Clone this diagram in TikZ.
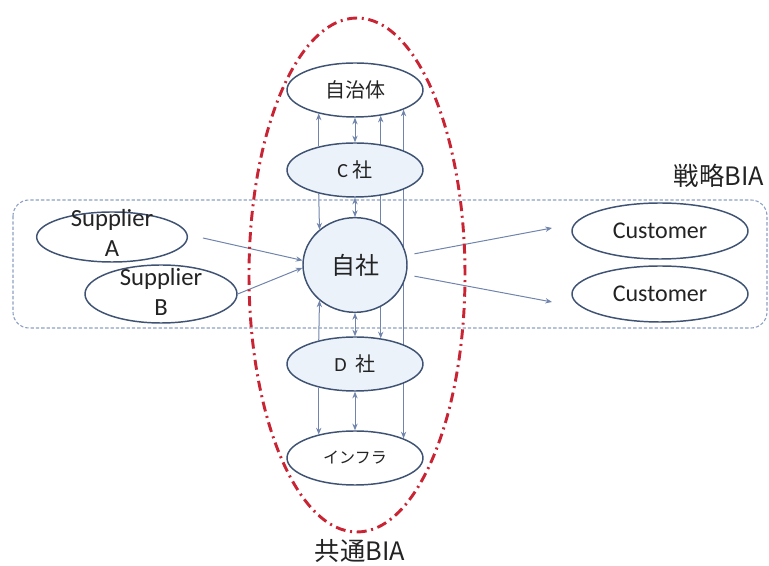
\documentclass[tikz,border=0pt]{standalone}
\usepackage{fontspec}
\setmainfont{Carlito}
\newfontfamily\jp{Noto Sans CJK JP}
\usepackage{tikz}
\usetikzlibrary{arrows.meta}
\usetikzlibrary{backgrounds}
\usetikzlibrary{shapes.geometric}
\definecolor{edgec}{RGB}{62,82,115}
\definecolor{flowc}{RGB}{112,132,172}
\definecolor{boxc}{RGB}{140,160,195}
\definecolor{redc}{RGB}{200,36,52}
\definecolor{paleb}{RGB}{236,242,250}
\definecolor{textc}{RGB}{35,35,35}
\tikzset{
	bub/.style={ellipse, draw=edgec, line width=1.1pt, inner sep=0pt, text=textc},
	midbub/.style={bub, fill=paleb, minimum width=102pt, minimum height=40.5pt},
	endbub/.style={bub, fill=white, minimum width=102pt, minimum height=40.5pt},
	flow/.style={->, draw=flowc, line width=0.75pt},
	both/.style={<->, draw=flowc, line width=0.75pt}
}

\begin{document}
\begin{tikzpicture}[x=0.75pt, y=-0.75pt, >={Stealth[length=5pt,width=4pt]}]
	\useasboundingbox (0,0) rectangle (769,566);
	\draw[boxc, line width=0.8pt, dash pattern=on 2.5pt off 1.5pt, rounded corners=12pt] (13,200) rectangle (767,328);
	\begin{scope}[every node/.style={font=\jp\fontsize{15}{18}\selectfont}]
		\node[endbub] (jichitai) at (355,90) {自治体};
		\node[midbub] (Csha) at (355,170) {{\rmfamily C} 社};
		\node[bub, fill=paleb, minimum width=78pt, minimum height=71pt, font=\jp\fontsize{18}{22}\selectfont] (jisha) at (355,265) {自社};
		\node[midbub] (Dsha) at (355,364) {{\rmfamily D}\ \ 社};
		\node[endbub, font=\jp\fontsize{12}{14}\selectfont] (infra) at (355,458) {インフラ};
	\end{scope}
	\begin{scope}[every node/.style={bub, fill=white}]
		\node[minimum width=113pt, minimum height=37.5pt] (supA) at (112,237) {};
		\node[minimum width=114pt, minimum height=43.5pt] (supB) at (161,294) {};
		\node[minimum width=132pt, minimum height=42pt, font=\fontsize{18}{22}\selectfont] (cust1) at (660,231) {Customer};
		\node[minimum width=132pt, minimum height=42pt, font=\fontsize{18}{22}\selectfont] (cust2) at (660,294) {Customer};
	\end{scope}
	\begin{scope}[every node/.style={align=center, text=textc, font=\fontsize{18.5}{22.5}\selectfont}]
		\node (supAtxt) at (112,233) {Supplier\\A};
		\node (supBtxt) at (161,292) {Supplier\\B};
	\end{scope}
	\begin{scope}[on background layer]
		\draw[flow] (Csha.147) -- (jichitai.213);
		\draw[flow] (Csha.213) -- (jisha.135);
		\draw[flow] (Dsha.147) -- (jisha.225);
		\draw[flow] (Dsha.213) -- (infra.147);
		\draw[both] (jichitai.south) -- (Csha.north);
		\draw[both] (Csha.south) -- (jisha.north);
		\draw[both] (jisha.south) -- (Dsha.north);
		\draw[both] (Dsha.south) -- (infra.north);
		\draw[both] (jichitai.315) -- (Dsha.45);
		\draw[both] (jichitai.338) -- (infra.22);
	\end{scope}
	\coordinate (aout) at (203,238);
	\coordinate (c1in) at (552,228);
	\coordinate (c2in) at (552,302);
	\draw[flow] (aout) -- (jisha.175);
	\draw[flow] (supB.east) -- (jisha.183);
	\draw[flow, shorten <=6pt] (jisha) -- (c1in);
	\draw[flow, shorten <=6pt] (jisha) -- (c2in);
	\draw[redc, line width=2.2pt, dash pattern=on 7.5pt off 3.5pt on 1.5pt off 3.5pt] (357,275) ellipse [x radius=81pt, y radius=192.75pt];
	\node[text=textc, font=\jp\fontsize{19}{22}\selectfont] (senryaku) at (719,176) {戦略BIA};
	\node[text=textc, font=\jp\fontsize{19}{22}\selectfont] (kyotsu) at (360,551) {共通BIA};
\end{tikzpicture}
\end{document}
